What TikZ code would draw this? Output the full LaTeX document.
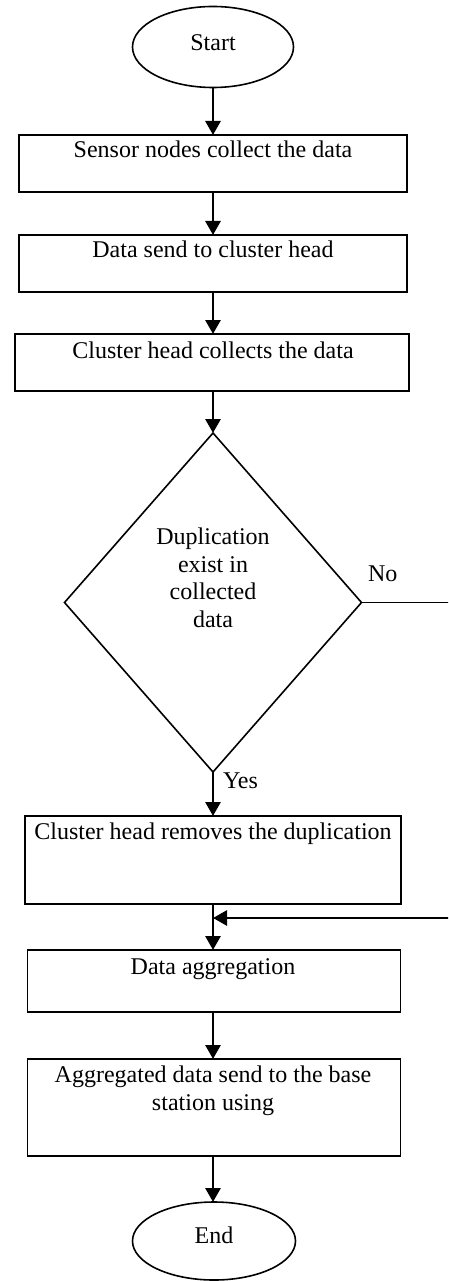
\documentclass[tikz,border=0pt]{standalone}
\usepackage{fontspec}
\setmainfont{Liberation Serif}
\usetikzlibrary{shapes.geometric,arrows.meta}
\begin{document}
\begin{tikzpicture}[x=1pt,y=-1pt,
  every node/.style={inner sep=0pt, outer sep=0pt},
  stepbox/.style={draw=black, line width=1.6pt, rectangle},
  term/.style={draw=black, line width=1.6pt, ellipse},
  decide/.style={draw=black, line width=1.6pt, diamond},
  txt/.style={font=\fontsize{24}{27.5}\selectfont, align=center, anchor=base},
  lbl/.style={font=\fontsize{24}{27.5}\selectfont, anchor=base west},
  flow/.style={line width=2.8pt, -{Triangle[length=14pt,width=15pt]}},
  plain/.style={line width=1.6pt}]
\useasboundingbox (0,0) rectangle (448,1281);
\clip (0,0) rectangle (448,1281);
% shapes
\node[term, minimum width=161pt, minimum height=81pt] (start) at (213,47) {};
\node[txt] (tstart) at (213,51) {Start};
\node[stepbox, minimum width=388pt, minimum height=57pt] (b1) at (213,163.5) {};
\node[txt] (t1) at (213,158) {Sensor nodes collect the data};
\node[stepbox, minimum width=388pt, minimum height=57pt] (b2) at (213,263.5) {};
\node[txt] (t2) at (213,258) {Data send to cluster head};
\node[stepbox, minimum width=394pt, minimum height=57pt] (b3) at (212,362.5) {};
\node[txt] (t3) at (213,358) {Cluster head collects the data};
\node[decide, minimum width=297pt, minimum height=339pt] (dia) at (213,602.5) {};
\node[txt] (td) at (213,627) {Duplication\\exist in\\collected\\data};
\node[stepbox, minimum width=376pt, minimum height=88pt] (b4) at (213,860) {};
\node[txt] (t4) at (213,839) {Cluster head removes the duplication};
\node[stepbox, minimum width=373pt, minimum height=62pt] (b5) at (214,981) {};
\node[txt] (t5) at (213,974) {Data aggregation};
\node[stepbox, minimum width=373pt, minimum height=97pt] (b6) at (214,1107.5) {};
\node[txt] (t6) at (213,1110) {Aggregated data send to the base\\station using};
\node[term, minimum width=163pt, minimum height=78pt] (end) at (214,1241) {};
\node[txt] (tend) at (214,1243) {End};
% labels
\node[lbl] (no) at (368,581) {No};
\node[lbl] (yes) at (223,788) {Yes};
% connectors
\coordinate (j) at (213,918);
\coordinate (r1) at (470,602.5);
\coordinate (r2) at (470,918);
\draw[flow] (start.south -| 213,0) -- (b1.north -| 213,0);
\draw[flow] (b1.south -| 213,0) -- (b2.north -| 213,0);
\draw[flow] (b2.south -| 213,0) -- (b3.north -| 213,0);
\draw[flow] (b3.south -| 213,0) -- (dia.north);
\draw[flow] (dia.south) -- (b4.north -| 213,0);
\draw[flow] (b4.south -| 213,0) -- (b5.north -| 213,0);
\draw[plain] (dia.east) -- (r1) -- (r2);
\draw[flow] (r2) -- (j);
\draw[flow] (b5.south -| 213,0) -- (b6.north -| 213,0);
\draw[flow] (b6.south -| 213,0) -- (end.north -| 213,0);
\end{tikzpicture}
\end{document}
